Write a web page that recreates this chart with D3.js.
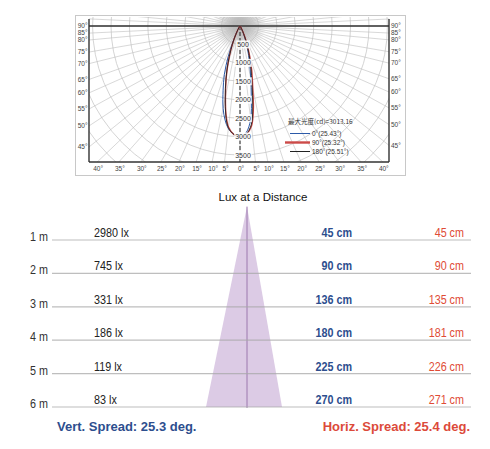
<!DOCTYPE html>
<html>
<head>
<meta charset="utf-8">
<script src="https://cdn.jsdelivr.net/npm/d3@7"></script>
<style>
body { margin: 0; background: #fff; }
svg { display: block; }
text { font-family: "Liberation Sans", Arial, sans-serif; }
</style>
</head>
<body>
<div id="chart"></div>
<script>
// polar diagram data
var gridAngles = d3.range(0, 91, 5);
var sideTicks = [90, 85, 80, 75, 70, 65, 60, 55, 50, 45];
var bottomTicks = [-40, -35, -30, -25, -20, -15, -10, -5, 0, 5, 10, 15, 20, 25, 30, 35, 40];
var ringLabels = [500, 1000, 1500, 2000, 2500, 3000, 3500];
var curveAngles = [-40, -30, -25, -20, -17.5, -15, -12.5, -10, -7.5, -5, -2.5, 0, 2.5, 5, 7.5, 10, 12.5, 15, 17.5, 20, 25, 30, 40];
var cd0   = [5, 25, 110, 460, 900, 1380, 1800, 2280, 2580, 2800, 2950, 3000, 2900, 2550, 1950, 1450, 1000, 680, 420, 240, 60, 15, 5];
var cd90  = [5, 25, 110, 400, 680, 1040, 1480, 1960, 2420, 2760, 2950, 3013, 2950, 2740, 2300, 1720, 1250, 850, 540, 300, 80, 18, 5];
var cd180 = [5, 25, 110, 410, 690, 1060, 1500, 1990, 2450, 2780, 2945, 3005, 2940, 2700, 2200, 1620, 1150, 780, 500, 280, 75, 16, 5];
var legendNames = ["0°(25.43°)", "90°(25.32°)", "180°(25.51°)"];
var maxTitle = "最大光度(cd)=3013.16";

// lux at a distance data
var distances = [1, 2, 3, 4, 5, 6];
var luxValues = [2980, 745, 331, 186, 119, 83];
var vertWidth = [45, 90, 136, 180, 225, 270];
var horizWidth = [45, 90, 135, 181, 226, 271];
var vertSpread = 25.3, horizSpread = 25.4;

var W = 490, H = 449;
var svg = d3.select("#chart").append("svg")
    .attr("width", W)
    .attr("height", H);
svg.append("rect").attr("width", W).attr("height", H).attr("fill", "#fff");

// ---------- polar plot ----------
var ox = 240, oy = 26;
var box = {left: 89, right: 389, top: 26, bottom: 162};
var rScale = d3.scaleLinear().domain([0, 3500]).range([0, 129]);
// grid of this diagram is stretched near the axis
var warp = d3.scaleLinear().domain(gridAngles)
    .range([0, 6.5, 11.6, 17.9, 24.2, 30.2, 36.1, 41.7, 46.4, 51.3, 56.5, 61.2, 66.1, 70.5, 76, 80.2, 84.7, 87.3, 90]);

function phi(a) {
    var s = a < 0 ? -1 : 1, m = Math.abs(a);
    var p = m <= 90 ? warp(m) : 180 - warp(180 - m);
    return s * p * Math.PI / 180;
}
function pt(a, v) {
    var r = rScale(v), p = phi(a);
    return [ox + r * Math.sin(p), oy + r * Math.cos(p)];
}

var defs = svg.append("defs");
defs.append("clipPath").attr("id", "plotclip")
  .append("rect")
    .attr("x", box.left).attr("y", 17)
    .attr("width", box.right - box.left).attr("height", box.bottom - 17);
var hub = defs.append("radialGradient").attr("id", "hub");
hub.append("stop").attr("offset", "0%").attr("stop-color", "#777").attr("stop-opacity", 0.7);
hub.append("stop").attr("offset", "100%").attr("stop-color", "#999").attr("stop-opacity", 0);

// outer border
svg.append("rect")
    .attr("x", 75.5).attr("y", 15.5).attr("width", 330).attr("height", 160)
    .attr("fill", "none").attr("stroke", "#c8c8c8");

var grid = svg.append("g").attr("clip-path", "url(#plotclip)");

grid.append("circle")
    .attr("cx", ox).attr("cy", oy).attr("r", 26)
    .attr("fill", "url(#hub)");

grid.selectAll(".ring")
    .data(d3.range(500, 6001, 500))
    .enter().append("circle")
    .attr("class", "ring")
    .attr("cx", ox).attr("cy", oy)
    .attr("r", function(d) { return rScale(d); })
    .attr("fill", "none")
    .attr("stroke", "#c2c2c2")
    .attr("stroke-width", 0.7);

grid.selectAll(".ray")
    .data(d3.range(-175, 181, 5))
    .enter().append("line")
    .attr("class", "ray")
    .attr("x1", ox).attr("y1", oy)
    .attr("x2", function(d) { return pt(d, 9000)[0]; })
    .attr("y2", function(d) { return pt(d, 9000)[1]; })
    .attr("stroke", "#bdbdbd")
    .attr("stroke-width", 0.6);

// frame
var frame = svg.append("g").attr("stroke", "#333").attr("stroke-width", 1.4).attr("fill", "none");
frame.append("line").attr("x1", box.left).attr("x2", box.right).attr("y1", oy).attr("y2", oy);
frame.append("line").attr("x1", box.left).attr("x2", box.right).attr("y1", box.bottom).attr("y2", box.bottom);
frame.append("line").attr("x1", box.left).attr("x2", box.left).attr("y1", 19).attr("y2", box.bottom);
frame.append("line").attr("x1", box.right).attr("x2", box.right).attr("y1", 19).attr("y2", box.bottom);

// 0 degree axis
svg.append("line")
    .attr("x1", ox).attr("x2", ox).attr("y1", oy).attr("y2", box.bottom)
    .attr("stroke", "#222").attr("stroke-width", 1)
    .attr("stroke-dasharray", "4,2");

// curves
var curveLine = d3.line()
    .x(function(d) { return pt(d[0], d[1])[0]; })
    .y(function(d) { return pt(d[0], d[1])[1]; })
    .curve(d3.curveCatmullRom);

var series = [
    {name: legendNames[0], vals: cd0, color: "#2c5aa8", w: 1},
    {name: legendNames[1], vals: cd90, color: "#cc4a48", w: 1.4},
    {name: legendNames[2], vals: cd180, color: "#222", w: 0.9}
];
series.forEach(function(s) {
    svg.append("path")
        .datum(curveAngles.map(function(a, i) { return [a, s.vals[i]]; }))
        .attr("d", curveLine)
        .attr("fill", "none")
        .attr("stroke", s.color)
        .attr("stroke-width", s.w);
});

// ring labels on the axis
var rl = svg.append("g").attr("font-size", 7).attr("fill", "#333");
ringLabels.forEach(function(v) {
    var y = oy + rScale(v);
    rl.append("rect")
        .attr("x", 243 - (String(v).length * 3.9 + 2) / 2).attr("y", y - 4)
        .attr("width", String(v).length * 3.9 + 2).attr("height", 8)
        .attr("fill", "#fff").attr("opacity", 0.9);
    rl.append("text")
        .attr("x", 243).attr("y", y + 2.5)
        .attr("text-anchor", "middle")
        .text(v);
});

// angle tick labels
var tl = svg.append("g").attr("font-size", 6.5).attr("fill", "#444");
sideTicks.forEach(function(a) {
    var y = oy + (ox - box.left) / Math.tan(phi(a));
    tl.append("text").attr("x", 87.5).attr("y", y + 2.3).attr("text-anchor", "end").text(a + "°");
    y = oy + (box.right - ox) / Math.tan(phi(a));
    tl.append("text").attr("x", 391).attr("y", y + 2.3).text(a + "°");
});
bottomTicks.forEach(function(a) {
    var x = ox + (box.bottom - oy) * Math.tan(phi(a));
    tl.append("text").attr("x", x + 1).attr("y", 170.5).attr("text-anchor", "middle").text(Math.abs(a) + "°");
});

// legend
var lg = svg.append("g").attr("font-size", 6.5).attr("fill", "#333");
lg.append("text").attr("x", 288).attr("y", 124)
    .style("font-family", "'Noto Sans CJK SC', 'Liberation Sans', sans-serif")
    .text(maxTitle);
series.forEach(function(s, i) {
    var y = 133.5 + i * 9;
    lg.append("line")
        .attr("x1", i == 1 ? 285 : 290).attr("x2", 310)
        .attr("y1", y).attr("y2", y)
        .attr("stroke", s.color)
        .attr("stroke-width", i == 1 ? 2.4 : 1);
    lg.append("text").attr("x", 312).attr("y", y + 2.4).text(s.name);
});

// ---------- lux at a distance ----------
var y = d3.scaleLinear().domain([0, 6]).range([206.6, 407]);
var bx = d3.scaleLinear().domain([-135, 0, 135.5]).range([206, 247, 282]);

svg.append("text")
    .attr("x", 263).attr("y", 201)
    .attr("text-anchor", "middle")
    .attr("font-size", 11.5)
    .attr("fill", "#111")
    .text("Lux at a Distance");

svg.append("path")
    .attr("d", "M" + bx(0) + "," + y(0) +
        "L" + bx(-vertWidth[5] / 2) + "," + y(6) +
        "L" + bx(horizWidth[5] / 2) + "," + y(6) + "Z")
    .attr("fill", "#dccbe5");

svg.append("line")
    .attr("x1", bx(0)).attr("x2", bx(0))
    .attr("y1", y(0)).attr("y2", y(6) + 1)
    .attr("stroke", "#9c78ae").attr("stroke-width", 1);

svg.selectAll(".row")
    .data(distances)
    .enter().append("line")
    .attr("class", "row")
    .attr("x1", 52).attr("x2", 471)
    .attr("y1", function(d) { return y(d); })
    .attr("y2", function(d) { return y(d); })
    .attr("stroke", "#a8a8a8")
    .attr("stroke-opacity", 0.75)
    .attr("stroke-width", 1.2);

function cText(x, yy, str, anchor, color, weight) {
    svg.append("text")
        .attr("transform", "translate(" + x + "," + yy + ") scale(0.83,1)")
        .attr("text-anchor", anchor)
        .attr("font-size", 13)
        .attr("font-weight", weight)
        .attr("fill", color)
        .text(str);
}

distances.forEach(function(d, i) {
    cText(30, y(d) + 1, d + " m", "start", "#333", "normal");
    cText(94, y(d) - 3, luxValues[i] + " lx", "start", "#222", "normal");
    cText(352, y(d) - 3, vertWidth[i] + " cm", "end", "#2d4e8e", "bold");
    cText(464, y(d) - 3, horizWidth[i] + " cm", "end", "#e04b36", "normal");
});

svg.append("text")
    .attr("x", 57).attr("y", 431)
    .attr("font-size", 13).attr("font-weight", "bold")
    .attr("fill", "#2d4e8e")
    .text("Vert. Spread: " + vertSpread + " deg.");
svg.append("text")
    .attr("x", 470).attr("y", 431)
    .attr("text-anchor", "end")
    .attr("font-size", 13).attr("font-weight", "bold")
    .attr("fill", "#dc4a3a")
    .text("Horiz. Spread: " + horizSpread + " deg.");
</script>
</body>
</html>
